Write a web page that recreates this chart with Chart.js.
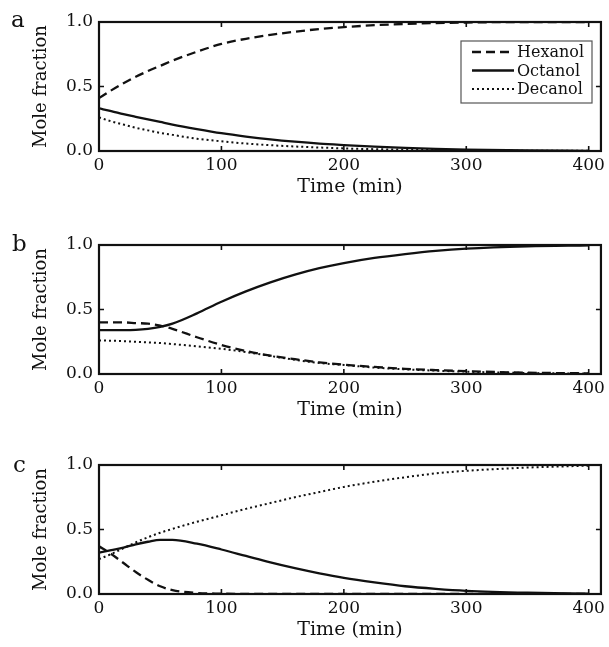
<!DOCTYPE html>
<html>
<head>
<meta charset="utf-8">
<script src="https://cdn.jsdelivr.net/npm/chart.js@4.4.1/dist/chart.umd.min.js"></script>
<style>
  html, body { margin: 0; padding: 0; background: #fff; }
  body { width: 609px; height: 647px; position: relative; overflow: hidden; }
  .panel { position: absolute; left: 0; width: 609px; height: 204px; }
  .letter { position: absolute; font-family: 'DejaVu Serif', serif; font-size: 23px; line-height: 23px; color: #111; }
</style>
</head>
<body>
<div class="panel" style="top:0px"><canvas id="chartA"></canvas></div>
<div class="panel" style="top:223px"><canvas id="chartB"></canvas></div>
<div class="panel" style="top:443px"><canvas id="chartC"></canvas></div>
<div class="letter" style="left:11px; top:8px">a</div>
<div class="letter" style="left:12px; top:232px">b</div>
<div class="letter" style="left:13px; top:453px">c</div>

<script>
// --- dữ liệu ---
const times = [0, 10, 20, 30, 40, 50, 60, 80, 100, 120, 140, 160, 180, 200, 225, 250, 275, 300, 350, 400];
const seriesNames = ['Hexanol', 'Octanol', 'Decanol'];
const xTicks = [0, 100, 200, 300, 400];
const yTicks = [0, 0.5, 1];

// panel a
const aHexanol = [0.41, 0.47, 0.525, 0.575, 0.62, 0.66, 0.70, 0.77, 0.83, 0.87, 0.90, 0.925, 0.945, 0.96, 0.975, 0.985, 0.992, 0.996, 1.0, 1.0];
const aOctanol = [0.33, 0.31, 0.285, 0.265, 0.245, 0.225, 0.205, 0.17, 0.138, 0.112, 0.09, 0.072, 0.057, 0.046, 0.034, 0.024, 0.016, 0.011, 0.004, 0.001];
const aDecanol = [0.26, 0.23, 0.205, 0.18, 0.16, 0.14, 0.125, 0.095, 0.075, 0.058, 0.045, 0.035, 0.027, 0.02, 0.014, 0.01, 0.007, 0.005, 0.002, 0.001];
// panel b
const bHexanol = [0.40, 0.40, 0.40, 0.395, 0.39, 0.375, 0.35, 0.285, 0.225, 0.178, 0.142, 0.115, 0.09, 0.072, 0.055, 0.04, 0.03, 0.022, 0.01, 0.005];
const bOctanol = [0.34, 0.34, 0.34, 0.342, 0.35, 0.365, 0.39, 0.47, 0.56, 0.64, 0.71, 0.77, 0.82, 0.86, 0.90, 0.93, 0.955, 0.972, 0.99, 0.998];
const bDecanol = [0.26, 0.258, 0.255, 0.25, 0.245, 0.24, 0.232, 0.215, 0.195, 0.17, 0.14, 0.11, 0.085, 0.07, 0.05, 0.036, 0.026, 0.018, 0.008, 0.003];
// panel c
const cHexanol = [0.37, 0.31, 0.24, 0.17, 0.11, 0.06, 0.03, 0.008, 0.003, 0.001, 0, 0, 0, 0, 0, 0, 0, 0, 0, 0];
const cOctanol = [0.32, 0.34, 0.36, 0.385, 0.405, 0.42, 0.42, 0.39, 0.345, 0.295, 0.245, 0.2, 0.16, 0.125, 0.09, 0.06, 0.04, 0.025, 0.01, 0.003];
const cDecanol = [0.27, 0.31, 0.355, 0.40, 0.44, 0.475, 0.505, 0.56, 0.61, 0.66, 0.705, 0.75, 0.79, 0.83, 0.87, 0.905, 0.935, 0.955, 0.98, 0.995];

const INK = '#111';
const FONT = "'DejaVu Serif', serif";

// kiểu nét cho 3 đường: gạch, liền, chấm
const lineStyles = [
    { borderDash: [9, 5], borderWidth: 2.3 },
    { borderDash: [], borderWidth: 2.3 },
    { borderDash: [2, 3], borderWidth: 2 }
];

const toPoints = (vals) => times.map((t, i) => ({ x: t, y: vals[i] }));

// khung + vạch chia hướng vào trong (kiểu MATLAB)
const boxPlugin = {
    id: 'box',
    afterDatasetsDraw(chart) {
        const { ctx, chartArea: a, scales: { x, y } } = chart;
        ctx.save();
        ctx.strokeStyle = INK;
        ctx.lineWidth = 2.2;
        ctx.strokeRect(a.left, a.top, a.right - a.left, a.bottom - a.top);
        ctx.lineWidth = 1.6;
        ctx.beginPath();
        xTicks.slice(1).forEach(v => {
            const px = x.getPixelForValue(v);
            ctx.moveTo(px, a.bottom); ctx.lineTo(px, a.bottom - 5);
            ctx.moveTo(px, a.top); ctx.lineTo(px, a.top + 5);
        });
        const py = y.getPixelForValue(0.5);
        ctx.moveTo(a.left, py); ctx.lineTo(a.left + 5, py);
        ctx.moveTo(a.right, py); ctx.lineTo(a.right - 5, py);
        ctx.stroke();
        ctx.restore();
    }
};

// chú thích trong khung (chỉ panel a)
const innerLegend = {
    id: 'innerLegend',
    afterDraw(chart, args, opts) {
        if (!opts.show) return;
        const { ctx } = chart;
        const bx = 461, by = 41, bw = 131, bh = 62;
        ctx.save();
        ctx.fillStyle = '#fff';
        ctx.fillRect(bx, by, bw, bh);
        ctx.strokeStyle = '#555';
        ctx.lineWidth = 1.2;
        ctx.strokeRect(bx, by, bw, bh);
        ctx.font = '16px ' + FONT;
        ctx.textBaseline = 'middle';
        ctx.fillStyle = INK;
        chart.data.datasets.forEach((ds, i) => {
            const yy = by + 11 + i * 18.5;
            ctx.beginPath();
            ctx.setLineDash(ds.borderDash || []);
            ctx.lineWidth = ds.borderWidth;
            ctx.strokeStyle = INK;
            ctx.moveTo(bx + 11, yy); ctx.lineTo(bx + 53, yy);
            ctx.stroke();
            ctx.setLineDash([]);
            ctx.fillText(ds.label, bx + 56, yy + 1);
        });
        ctx.restore();
    }
};

function makePanel(id, seriesVals, showLegend) {
    new Chart(document.getElementById(id).getContext('2d'), {
        type: 'line',
        data: {
            datasets: seriesVals.map((vals, i) => ({
                label: seriesNames[i],
                data: toPoints(vals),
                borderColor: INK,
                borderDash: lineStyles[i].borderDash,
                borderWidth: lineStyles[i].borderWidth,
                pointRadius: 0,
                fill: false,
                cubicInterpolationMode: 'monotone'
            }))
        },
        options: {
            responsive: true, maintainAspectRatio: false, animation: false,
            layout: { padding: { top: 22, right: 3, left: 0, bottom: 0 } },
            plugins: {
                legend: { display: false },
                tooltip: { enabled: false },
                innerLegend: { show: showLegend }
            },
            scales: {
                x: {
                    type: 'linear', min: 0, max: 410,
                    grid: { display: false, drawTicks: false },
                    border: { display: false },
                    afterBuildTicks: (s) => { s.ticks = xTicks.map(v => ({ value: v })); },
                    afterFit: (s) => { s.height = 53; },
                    ticks: { color: INK, font: { family: FONT, size: 17 }, padding: 4, maxRotation: 0, autoSkip: false },
                    title: { display: true, text: 'Time (min)', color: INK, font: { family: FONT, size: 19 }, padding: { top: 0, bottom: 6 } }
                },
                y: {
                    min: 0, max: 1,
                    grid: { display: false, drawTicks: false },
                    border: { display: false },
                    afterBuildTicks: (s) => { s.ticks = yTicks.map(v => ({ value: v })); },
                    afterFit: (s) => { s.width = 99; },
                    ticks: { color: INK, font: { family: FONT, size: 17 }, padding: 6, callback: (v) => Number(v).toFixed(1) },
                    title: { display: true, text: 'Mole fraction', color: INK, font: { family: FONT, size: 18 }, padding: { top: 31, bottom: 0 } }
                }
            }
        },
        plugins: [boxPlugin, innerLegend]
    });
}

makePanel('chartA', [aHexanol, aOctanol, aDecanol], true);
makePanel('chartB', [bHexanol, bOctanol, bDecanol], false);
makePanel('chartC', [cHexanol, cOctanol, cDecanol], false);
</script>
</body>
</html>
